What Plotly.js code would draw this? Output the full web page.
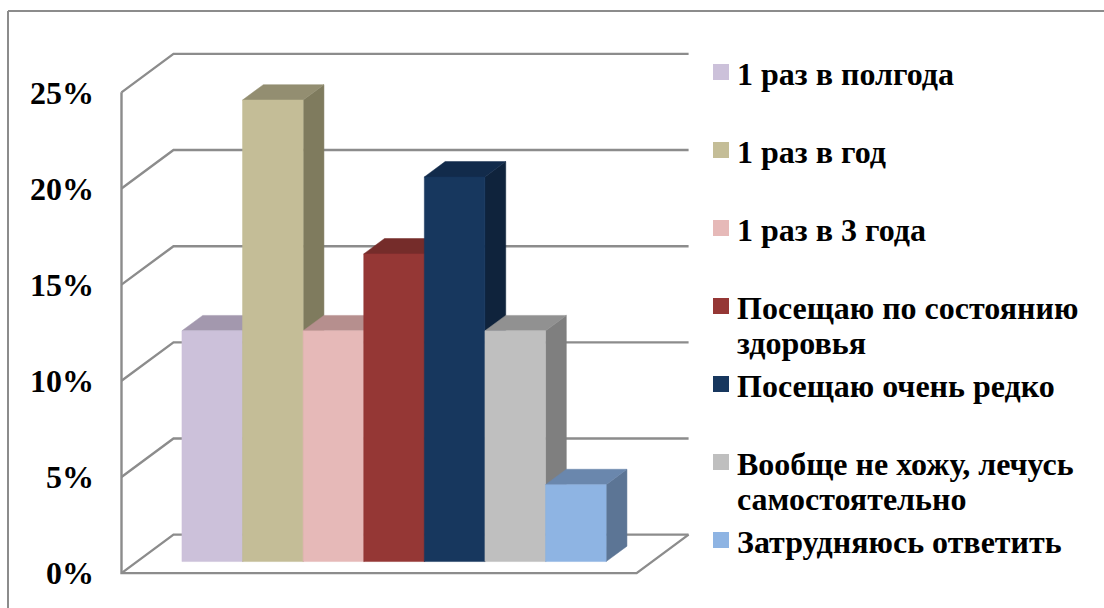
<!DOCTYPE html>
<html lang="ru">
<head>
<meta charset="utf-8">
<title>Частота посещений</title>
<script src="https://cdn.plot.ly/plotly-3.0.1.min.js"></script>
<style>html,body{margin:0;padding:0;background:#fff}#chart{width:1104px;height:608px}</style>
</head>
<body>
<div id="chart"></div>
<script>
// Survey answers and their share in percent
const categories = [
  '1 раз в полгода', '1 раз в год', '1 раз в 3 года',
  'Посещаю по состоянию<br>здоровья', 'Посещаю очень редко',
  'Вообще не хожу, лечусь<br>самостоятельно', 'Затрудняюсь ответить'
];
const shares = [12, 24, 12, 16, 20, 12, 4];
const frontColors = ['#CCC1DA', '#C4BD97', '#E6B9B8', '#953735', '#17375E', '#BFBFBF', '#8EB4E3'];
const topColors = ['#A398AE', '#938E71', '#B68F8E', '#752C2A', '#122B4B', '#919191', '#6A87AD'];
const sideColors = ['#8C8496', '#7F7B5E', '#9E7B7A', '#652523', '#0F233C', '#7F7F7F', '#5C7595'];
const tickValues = [0, 5, 10, 15, 20, 25];
const tickLabels = ['0%', '5%', '10%', '15%', '20%', '25%'];

// Frame of the chart in pixels and the scales that follow from it
const W = 1104, H = 608;
const plotLeft = 105;     // left edge of the plot area
const originPx = 121.5;   // where the value axis stands
const pxPerBar = 60.6;
const pxPerPercent = 19.23;
const zeroPx = 573.1;

// Oblique projection: depth 0 is the front of the floor, depth 1 the back wall
const depthX = 0.858, depthY = 2.0;
const floorWidth = 8.5, barGap = 0.74;
const barFront = 0.3, barBack = 0.7;
const project = (x, y, d) => [x + d * depthX, y + d * depthY];

const grey = '#8C8C8C';
function polyline(points, color, width) {
  return {
    type: 'scatter', mode: 'lines', hoverinfo: 'skip', showlegend: false,
    x: points.map(p => project(...p)[0]),
    y: points.map(p => project(...p)[1]),
    line: {color, width, simplify: false}
  };
}
function face(points, color, hover) {
  return {
    type: 'scatter', mode: 'lines', fill: 'toself', fillcolor: color,
    showlegend: false, hoveron: 'fills', text: hover, hoverinfo: 'text',
    x: points.map(p => project(...p)[0]),
    y: points.map(p => project(...p)[1]),
    line: {color, width: 0.5}
  };
}

const traces = [];
// Walls and floor outline
tickValues.forEach(v => {
  traces.push(polyline([[0, v, 0], [0, v, 1], [floorWidth, v, 1]], grey, 2.4));
});
traces.push(polyline([[0, tickValues[tickValues.length - 1], 0], [0, 0, 0], [floorWidth, 0, 0], [floorWidth, 0, 1]], grey, 2.4));

// Bars are painted left to right so each front covers its neighbour's side
shares.forEach((v, i) => {
  const a = barGap + i, b = a + 1;
  const label = categories[i].replace('<br>', ' ') + ': ' + v + '%';
  traces.push(face([[b, 0, barFront], [b, 0, barBack], [b, v, barBack], [b, v, barFront], [b, 0, barFront]], sideColors[i], label));
  traces.push(face([[a, v, barFront], [b, v, barFront], [b, v, barBack], [a, v, barBack], [a, v, barFront]], topColors[i], label));
  traces.push(face([[a, 0, barFront], [b, 0, barFront], [b, v, barFront], [a, v, barFront], [a, 0, barFront]], frontColors[i], label));
});

// Legend rows sit on a fixed pitch, wrapped rows spill into the gap below
const plotWidth = W - plotLeft;
const paperX = px => (px - plotLeft) / plotWidth;
const paperY = px => 1 - px / H;
const serif = 'Liberation Serif, Times New Roman, serif';
const legendSwatchX = 713, legendSwatchSize = 16, legendTextX = 736;
const legendFirstTop = 64, legendPitch = 78, legendLinePitch = 35;

const shapes = [
  {type: 'line', xref: 'paper', yref: 'paper', x0: paperX(8), x1: paperX(W), y0: paperY(11), y1: paperY(11), line: {color: '#8C8C8C', width: 2}},
  {type: 'line', xref: 'paper', yref: 'paper', x0: paperX(8), x1: paperX(8), y0: paperY(11), y1: paperY(H), line: {color: '#8C8C8C', width: 2}}
];
const annotations = [];
categories.forEach((name, i) => {
  const top = legendFirstTop + i * legendPitch;
  shapes.push({
    type: 'rect', xref: 'paper', yref: 'paper', layer: 'above',
    x0: paperX(legendSwatchX), x1: paperX(legendSwatchX + legendSwatchSize),
    y0: paperY(top), y1: paperY(top + legendSwatchSize),
    fillcolor: frontColors[i], line: {width: 0}
  });
  name.split('<br>').forEach((line, k) => {
    annotations.push({
      xref: 'paper', yref: 'paper', xanchor: 'left', yanchor: 'middle', align: 'left',
      x: paperX(legendTextX), y: paperY(top + 10 + k * legendLinePitch),
      text: '<b>' + line + '</b>', showarrow: false, borderpad: 0,
      font: {family: serif, size: 32, color: '#000'}
    });
  });
});

const layout = {
  width: W, height: H,
  margin: {l: plotLeft, r: 0, t: 0, b: 0, pad: 0},
  paper_bgcolor: '#fff', plot_bgcolor: 'rgba(0,0,0,0)',
  showlegend: false,
  xaxis: {
    range: [(plotLeft - originPx) / pxPerBar, (W - originPx) / pxPerBar],
    visible: false, fixedrange: true
  },
  yaxis: {
    range: [(zeroPx - H) / pxPerPercent, zeroPx / pxPerPercent],
    tickmode: 'array', tickvals: tickValues, ticktext: tickLabels,
    showgrid: false, zeroline: false, showline: false, ticks: '',
    ticklabelstandoff: 10, fixedrange: true,
    tickfont: {family: serif, size: 32, color: '#000', weight: 'bold'}
  },
  shapes, annotations
};

Plotly.newPlot('chart', traces, layout, {displayModeBar: false, responsive: false});
</script>
</body>
</html>
